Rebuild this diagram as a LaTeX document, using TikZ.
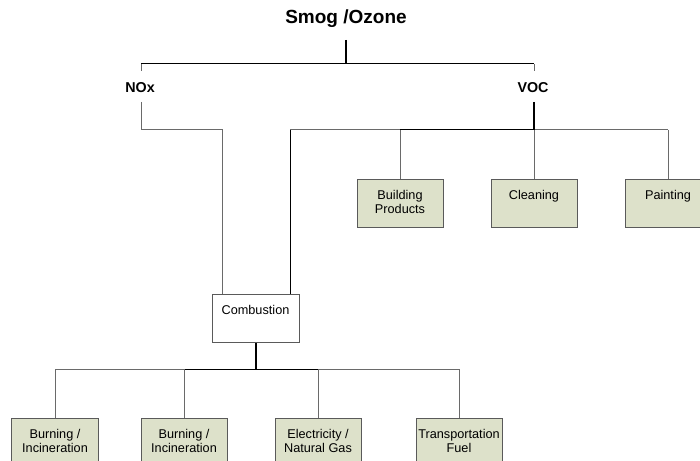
\documentclass[tikz,border=0pt]{standalone}
\usepackage{fontspec}
\setmainfont{Liberation Sans}
\definecolor{boxfill}{HTML}{DDE1CA}
\definecolor{edge}{HTML}{5A5A5A}
\definecolor{wire}{HTML}{6A6A6A}
\begin{document}
\begin{tikzpicture}[x=1bp,y=-1bp,
  box/.style={draw=edge, line width=1bp, fill=boxfill, minimum width=86bp, minimum height=48bp, anchor=north, inner sep=0pt},
  plainbox/.style={box, fill=white},
  boxtxt/.style={anchor=north, inner sep=0pt, align=center, font=\fontsize{12.7bp}{14.2bp}\selectfont},
  head/.style={anchor=base, inner sep=0pt, font=\bfseries\fontsize{14.3bp}{16bp}\selectfont},
  title/.style={anchor=base, inner sep=0pt, font=\bfseries\fontsize{19bp}{22bp}\selectfont},
  ln/.style={draw=wire, line width=1bp},
  hot/.style={draw=black, line width=1bp},
  thk/.style={draw=black, line width=2bp}]
\useasboundingbox (0,0) rectangle (700,461);
\clip (0,0) rectangle (700,461);
% labels
\node[title] (smog) at (346,23.8) {Smog /Ozone};
\node[head] (nox) at (140,93) {NOx};
\node[head] (voc) at (533,93) {VOC};
% joints
\coordinate (smogout) at (346,40);
\coordinate (top) at (346,64);
\coordinate (noxin) at (141,71);
\coordinate (vocin) at (534,71);
\coordinate (noxout) at (141,102);
\coordinate (vocout) at (534,102);
\coordinate (vocbus) at (534,130);
% top boxes
\node[box] (bp) at (400,179) {};
\node[boxtxt] (bpt) at ([yshift=-11bp]bp.north) {Building\\Products};
\node[box] (cl) at (534,179) {};
\node[boxtxt] (clt) at ([yshift=-11bp]cl.north) {Cleaning};
\node[box] (pt) at (668,179) {};
\node[boxtxt] (ptt) at ([yshift=-11bp]pt.north) {Painting};
% combustion
\node[plainbox, minimum width=87bp] (comb) at (255.5,294) {};
\node[boxtxt] (combt) at ([yshift=-11bp]comb.north) {Combustion};
\coordinate (combbus) at (255.5,369);
% bottom boxes
\node[box] (b1) at (55,418) {};
\node[boxtxt] (b1t) at ([yshift=-11bp]b1.north) {Burning /\\Incineration};
\node[box] (b2) at (184,418) {};
\node[boxtxt] (b2t) at ([yshift=-11bp]b2.north) {Burning /\\Incineration};
\node[box] (b3) at (318,418) {};
\node[boxtxt] (b3t) at ([yshift=-11bp]b3.north) {Electricity /\\Natural Gas};
\node[box] (b4) at (459,418) {};
\node[boxtxt] (b4t) at ([yshift=-11bp]b4.north) {Transportation\\Fuel};
% connectors: top
\draw[ln] (noxin) -- (noxin |- top);
\draw[ln] (vocin) -- (vocin |- top);
\draw[hot] (noxin |- top) -- (vocin |- top);
\draw[thk] (smogout) -- (top);
% NOx branch
\draw[ln] (noxout) |- ([xshift=-33.5bp]comb.north |- vocbus) -- ([xshift=-33.5bp]comb.north);
% VOC branch
\draw[ln] ([xshift=34.5bp]comb.north |- vocbus) -- (pt.north |- vocbus);
\draw[hot] ([xshift=34.5bp]comb.north) -- ([xshift=34.5bp]comb.north |- vocbus);
\draw[ln] (bp.north |- vocbus) -- (bp.north);
\draw[ln] (vocbus) -- (cl.north);
\draw[ln] (pt.north |- vocbus) -- (pt.north);
\draw[hot] (bp.north |- vocbus) -- (vocbus);
\draw[thk] (vocout) -- (vocbus);
% combustion branch
\draw[ln] (b1.north |- combbus) -- (b4.north |- combbus);
\draw[hot] (b2.north |- combbus) -- (b3.north |- combbus);
\draw[ln] (b1.north |- combbus) -- (b1.north);
\draw[ln] (b2.north |- combbus) -- (b2.north);
\draw[ln] (b3.north |- combbus) -- (b3.north);
\draw[ln] (b4.north |- combbus) -- (b4.north);
\draw[thk] (comb.south) -- (combbus);
\end{tikzpicture}
\end{document}
